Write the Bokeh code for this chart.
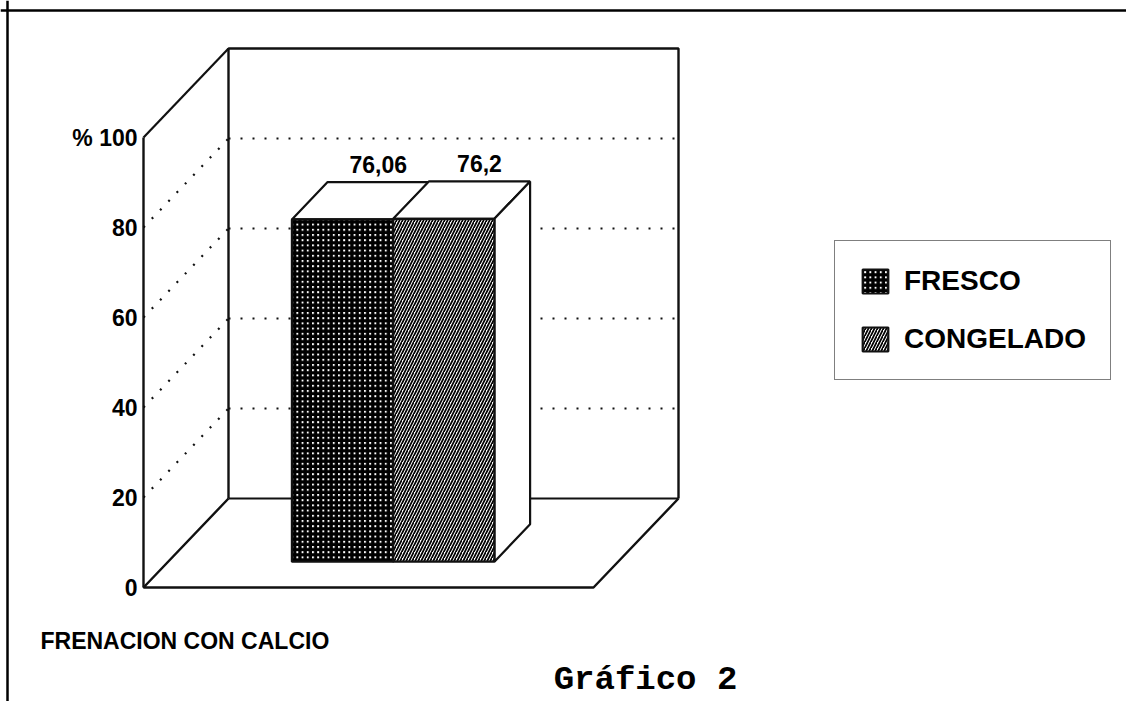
from bokeh.plotting import figure
from bokeh.models import Range1d, Span, Legend, LegendItem, Label
from bokeh.core.properties import value
from bokeh.embed import file_html
from bokeh.resources import INLINE

# ---------------- data ----------------
categories = ["FRENACION CON CALCIO"]
series = ["FRESCO", "CONGELADO"]
values = [76.06, 76.2]
value_labels = [f"{v:g}".replace(".", ",") for v in values]
tick_values = [0, 20, 40, 60, 80, 100]
tick_labels = ["0", "20", "40", "60", "80", "% 100"]
grid_values = [20, 40, 60, 80]
caption = "Gráfico 2"

# ---------------- layout ----------------
W, H = 1126, 701
PX = 4.5                      # pixels per data unit
OX, OY = 143, 587             # canvas position of the origin (from left / from top)
DX, DY = 85 / PX, 89 / PX     # 3-D depth vector in data units
F0, F1 = 0.29, 0.71           # bar depth (front / back fraction)
GROUP_C, BAR_W = 50.0, 22.5   # group centre and bar width in front-plane units

FONT = "Liberation Sans"

p = figure(width=W, height=H,
           x_range=Range1d(-OX / PX, (W - OX) / PX),
           y_range=Range1d(-(H - OY) / PX, OY / PX),
           x_axis_type=None, y_axis_type=None,
           toolbar_location=None, output_backend="svg",
           min_border=0, outline_line_color=None)
p.grid.visible = False
p.background_fill_color = "white"
p.border_fill_color = "white"

# page frame (left and top lines)
p.add_layout(Span(location=p.x_range.start + 7 / PX, dimension="height",
                  line_color="black", line_width=2.5))
p.add_layout(Span(location=p.y_range.end - 10 / PX, dimension="width",
                  line_color="black", line_width=2.5))

LC = "#111111"
# back-wall dotted gridlines
p.segment(x0=[DX] * len(grid_values), y0=[g + DY for g in grid_values],
          x1=[100 + DX] * len(grid_values), y1=[g + DY for g in grid_values],
          line_color=LC, line_width=2.2, line_dash="2 10")
# left-wall dotted diagonals
p.segment(x0=[0] * len(grid_values), y0=grid_values,
          x1=[DX] * len(grid_values), y1=[g + DY for g in grid_values],
          line_color=LC, line_width=2.2, line_dash="2 10")

# solid frame of the 3-D box
ymax = tick_values[-1]
xmax = 100
p.line(x=[DX, DX, xmax + DX, xmax + DX], y=[DY, ymax + DY, ymax + DY, DY],
       line_color=LC, line_width=2.4)                 # back wall
p.line(x=[DX, xmax + DX], y=[DY, DY], line_color=LC, line_width=2.2)   # floor back
p.line(x=[0, 0], y=[0, ymax], line_color=LC, line_width=2.4)          # front axis
p.line(x=[0, DX], y=[ymax, ymax + DY], line_color=LC, line_width=2.2)   # top diagonal
p.line(x=[DX, 0, xmax, xmax + DX], y=[DY, 0, 0, DY],
       line_color=LC, line_width=2.4)                 # floor outline

# tick labels
p.text(x=[0] * len(tick_values), y=tick_values, text=tick_labels,
       x_offset=-6, text_align="right", text_baseline="middle",
       text_font=value(FONT), text_font_style="bold", text_font_size="23px",
       text_color="black")

# ---------------- bars ----------------
hatches = [dict(fill_color="white", hatch_pattern="+", hatch_color="black",
                hatch_scale=5.2, hatch_weight=3.4),
           dict(fill_color="white", hatch_pattern="/", hatch_color="black",
                hatch_scale=6, hatch_weight=1.7)]
n = len(series)
lefts = [GROUP_C - n * BAR_W / 2 + i * BAR_W for i in range(n)]
renderers = []
for i, (name, v) in enumerate(zip(series, values)):
    x0, x1 = lefts[i], lefts[i] + BAR_W
    # top face
    p.patch(x=[x0 + DX * F0, x1 + DX * F0, x1 + DX * F1, x0 + DX * F1],
            y=[v + DY * F0, v + DY * F0, v + DY * F1, v + DY * F1],
            fill_color="white", line_color=LC, line_width=2.2)
    if i == n - 1:
        # right side face
        p.patch(x=[x1 + DX * F0, x1 + DX * F1, x1 + DX * F1, x1 + DX * F0],
                y=[DY * F0, DY * F1, v + DY * F1, v + DY * F0],
                fill_color="white", line_color=LC, line_width=2.2)
    r = p.quad(left=[x0 + DX * F0], right=[x1 + DX * F0],
               bottom=[DY * F0], top=[v + DY * F0],
               line_color=LC, line_width=2.2, **hatches[i])
    renderers.append(r)

# value labels above the back edge of each bar top
p.text(x=[l + BAR_W / 2 + DX * F1 for l in lefts],
       y=[v + DY * F1 + 18 / PX for v in values], text=value_labels,
       text_align="center", text_baseline="alphabetic",
       text_font=value(FONT), text_font_style="bold", text_font_size="23px",
       text_color="black")

# category label and caption
p.add_layout(Label(x=40, y=H - 640, x_units="screen", y_units="screen",
                   text=categories[0], text_font=FONT, text_font_style="bold",
                   text_font_size="23px", text_color="black",
                   text_align="left", text_baseline="middle"))
p.add_layout(Label(x=645, y=H - 679, x_units="screen", y_units="screen",
                   text=caption, text_font="Liberation Mono", text_font_style="bold",
                   text_font_size="34px", text_color="black",
                   text_align="center", text_baseline="middle"))

# ---------------- legend ----------------
legend = Legend(items=[LegendItem(label=s, renderers=[r]) for s, r in zip(series, renderers)],
                location=(834, H - 380), orientation="vertical",
                glyph_width=32, glyph_height=30, label_height=30,
                spacing=26, padding=24, label_standoff=13, margin=0,
                border_line_color="black", border_line_width=1.8,
                background_fill_color="white", background_fill_alpha=1,
                label_text_font=FONT, label_text_font_style="bold",
                label_text_font_size="28px", label_text_color="black")
p.add_layout(legend)

open("out.html", "w").write(file_html(p, INLINE))
